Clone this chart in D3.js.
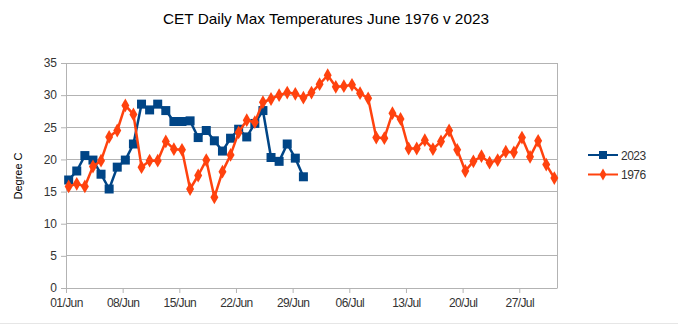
<!DOCTYPE html>
<html><head><meta charset="utf-8">
<script src="https://cdn.jsdelivr.net/npm/d3@7"></script>
<style>body{margin:0;background:#fff;}svg{display:block;}</style>
</head><body>
<svg id="c" width="678" height="330"></svg>
<script>
const title = "CET Daily Max Temperatures June 1976 v 2023";
const yLabel = "Degree C";
const seriesNames = ["2023", "1976"];
const tickLabels = ["01/Jun","08/Jun","15/Jun","22/Jun","29/Jun","06/Jul","13/Jul","20/Jul","27/Jul"];
const tickDays = [0,7,14,21,28,35,42,49,56];
const yTicks = [0,5,10,15,20,25,30,35];
// day index from 01/Jun
const values2023 = [16.8,18.2,20.6,19.9,17.7,15.4,18.8,19.9,22.4,28.6,
  27.7,28.6,27.6,25.9,25.9,26.0,23.4,24.5,22.9,21.3,
  23.3,24.7,23.5,25.6,27.6,20.3,19.7,22.4,20.2,17.3];
const values1976 = [15.8,16.2,15.8,18.9,19.8,23.5,24.5,28.4,27.0,18.8,
  19.8,19.8,22.8,21.6,21.5,15.4,17.5,19.9,14.1,18.1,
  20.7,24.2,26.1,25.8,28.9,29.4,30.0,30.4,30.2,29.6,
  30.4,31.7,33.1,31.3,31.4,31.6,30.3,29.5,23.4,23.3,
  27.2,26.3,21.7,21.7,23.0,21.6,22.8,24.5,21.5,18.2,
  19.7,20.5,19.5,19.9,21.2,21.1,23.4,20.4,22.9,19.2,17.1];
const colors = ["#004586","#ff420e"];

const svg = d3.select("#c");
const L = 66, R = 557, T = 63, B = 288;
const x = d3.scaleLinear().domain([-0.33, 60.33]).range([L, R]);
const y = d3.scaleLinear().domain([0, 35]).range([B, T]);
const font = "Liberation Sans, Arial, sans-serif";

svg.append("text").attr("x", 326).attr("y", 24).attr("text-anchor","middle")
  .attr("font-family", font).attr("font-size", 15).attr("fill","#000")
  .attr("textLength", 326).attr("lengthAdjust","spacingAndGlyphs").text(title);

// gridlines
svg.append("g").selectAll("line").data(yTicks).join("line")
  .attr("x1", L).attr("x2", R).attr("y1", d=>y(d)).attr("y2", d=>y(d))
  .attr("stroke", "#b3b3b3").attr("stroke-width", 1).attr("shape-rendering","crispEdges");
// right border
svg.append("line").attr("x1",R).attr("x2",R).attr("y1",T).attr("y2",B)
  .attr("stroke","#b3b3b3").attr("shape-rendering","crispEdges");

// y axis
const yAxis = d3.axisLeft(y).tickValues(yTicks).tickSize(5).tickPadding(4);
const gy = svg.append("g").attr("transform", `translate(${L},0)`).call(yAxis);
gy.select(".domain").attr("stroke","#b3b3b3");
gy.selectAll(".tick line").attr("stroke","#b3b3b3");
gy.selectAll("text").attr("font-family", font).attr("font-size", 12).attr("fill","#333");

// x axis
const xAxis = d3.axisBottom(x).tickValues(tickDays.map(d=>d-0.33))
  .tickFormat((d,i)=>tickLabels[i]).tickSize(5).tickSizeOuter(0).tickPadding(5);
const gx = svg.append("g").attr("transform", `translate(0,${B})`).call(xAxis);
gx.select(".domain").attr("stroke","#b3b3b3");
gx.selectAll(".tick line").attr("stroke","#b3b3b3");
gx.selectAll("text").attr("font-family", font).attr("font-size", 12).attr("fill","#333")
  .attr("letter-spacing", "-0.6");

svg.append("text").attr("transform","translate(22,176) rotate(-90)").attr("text-anchor","middle")
  .attr("font-family", font).attr("font-size", 11).attr("fill","#000").text(yLabel);

const line = d3.line().x((d,i)=>x(i)).y(d=>y(d));
const diamond = d3.symbol().type(d3.symbolDiamond).size(55);

// 2023
svg.append("path").datum(values2023).attr("d", line).attr("fill","none")
  .attr("stroke", colors[0]).attr("stroke-width", 2.5).attr("stroke-linejoin","round");
svg.append("g").selectAll("rect").data(values2023).join("rect")
  .attr("x",(d,i)=>x(i)-4.5).attr("y",d=>y(d)-4.5).attr("width",9).attr("height",9)
  .attr("fill", colors[0]);

// 1976
svg.append("path").datum(values1976).attr("d", line).attr("fill","none")
  .attr("stroke", colors[1]).attr("stroke-width", 2.5).attr("stroke-linejoin","round");
svg.append("g").selectAll("path").data(values1976).join("path")
  .attr("d", diamond).attr("transform",(d,i)=>`translate(${x(i)},${y(d)})`)
  .attr("fill", colors[1]);

// legend
const lg = svg.append("g");
seriesNames.forEach((n,i)=>{
  const ly = 155 + i*19.5;
  lg.append("line").attr("x1",588).attr("x2",618).attr("y1",ly).attr("y2",ly)
    .attr("stroke",colors[i]).attr("stroke-width",2);
  if (i===0) lg.append("rect").attr("x",599).attr("y",ly-4).attr("width",8).attr("height",8).attr("fill",colors[0]);
  else lg.append("path").attr("d", d3.symbol().type(d3.symbolDiamond).size(40)).attr("transform",`translate(603,${ly})`).attr("fill",colors[1]);
  lg.append("text").attr("x",621).attr("y",ly+4.5).attr("font-family",font).attr("font-size",12)
    .attr("fill","#333").attr("letter-spacing","-0.5").text(n);
});

svg.append("line").attr("x1",0).attr("x2",678).attr("y1",323.5).attr("y2",323.5).attr("stroke","#e6e6e6");
</script>
</body></html>
